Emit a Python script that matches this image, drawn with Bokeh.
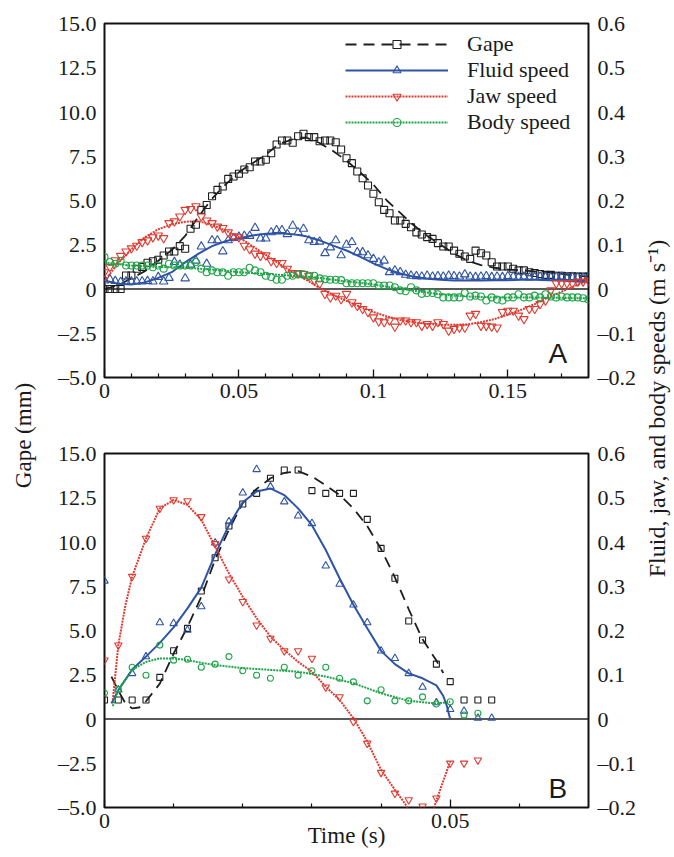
import math
from bokeh.plotting import figure
from bokeh.models import (Range1d, LinearAxis, FixedTicker, CustomJSTickFormatter,
                          NumeralTickFormatter, Span, Label, Legend, LegendItem)
from bokeh.layouts import row, column
from bokeh.embed import file_html
from bokeh.resources import INLINE
from bokeh.core.properties import value

# ---------------- data ----------------
# Panel A : samples every 2 ms, gape in mm, speeds in m/s
A_STEP = 0.002
GAPE_A = [0.0, 0.0, 0.0, 0.0, 0.76, 0.76, 1.14, 1.25, 1.48, 1.57,
          1.65, 1.89, 2.12, 2.12, 2.42, 2.27, 3.4, 3.63, 4.47, 4.75,
          5.24, 5.6, 5.79, 6.22, 6.36, 6.51, 6.75, 6.88, 7.2, 7.2,
          7.3, 7.67, 8.16, 8.39, 8.39, 8.26, 8.63, 8.77, 8.58, 8.58,
          8.35, 8.39, 8.39, 8.29, 7.88, 7.39, 7.11, 6.64, 6.26, 5.85,
          5.38, 4.9, 4.47, 4.28, 3.87, 3.87, 3.68, 3.49, 3.2, 3.08,
          2.93, 2.83, 2.59, 2.4, 2.4, 2.17, 1.99, 1.84, 1.7, 2.17,
          2.02, 1.89, 1.51, 1.27, 1.27, 1.27, 1.14, 1.05, 1.05, 0.95,
          0.9, 0.85, 0.8, 0.8, 0.75, 0.75, 0.72, 0.72, 0.7, 0.7,
          0.7]
FLUID_A = [0.019, 0.022, 0.018, 0.016, 0.017, 0.017, 0.017, 0.017, 0.018, 0.017,
           0.027, 0.017, 0.025, 0.061, 0.055, 0.024, 0.055, 0.064, 0.096, 0.057,
           0.110, 0.110, 0.085, 0.110, 0.115, 0.118, 0.120, 0.120, 0.138, 0.114,
           0.114, 0.128, 0.133, 0.133, 0.124, 0.143, 0.128, 0.136, 0.110, 0.106,
           0.107, 0.081, 0.094, 0.110, 0.076, 0.100, 0.106, 0.083, 0.083, 0.076,
           0.068, 0.060, 0.064, 0.038, 0.042, 0.038, 0.032, 0.030, 0.029, 0.028,
           0.030, 0.028, 0.029, 0.028, 0.030, 0.029, 0.028, 0.033, 0.028, 0.027,
           0.028, 0.029, 0.027, 0.028, 0.027, 0.029, 0.028, 0.027, 0.028, 0.026,
           0.027, 0.028, 0.027, 0.026, 0.027, 0.028, 0.026, 0.027, 0.026, 0.025,
           0.026]
JAW_A = [0.038, 0.050, 0.065, 0.075, 0.085, 0.092, 0.098, 0.106, 0.110, 0.117,
         0.121, 0.115, 0.149, 0.153, 0.164, 0.179, 0.181, 0.187, 0.164, 0.155,
         0.149, 0.141, 0.138, 0.128, 0.119, 0.117, 0.098, 0.090, 0.080, 0.075,
         0.076, 0.063, 0.059, 0.059, 0.046, 0.036, 0.036, 0.034, 0.030, 0.020,
         0.012, -0.011, -0.019, -0.015, -0.023, -0.011, -0.030, -0.038, -0.045, -0.052,
         -0.064, -0.073, -0.075, -0.071, -0.085, -0.071, -0.071, -0.075, -0.075, -0.083,
         -0.079, -0.083, -0.075, -0.079, -0.094, -0.090, -0.087, -0.087, -0.060, -0.056,
         -0.083, -0.083, -0.085, -0.087, -0.052, -0.049, -0.049, -0.060, -0.068, -0.045,
         -0.045, -0.034, -0.026, -0.003, 0.013, 0.013, 0.013, 0.013, 0.017, 0.017,
         0.019]
BODY_A = [0.072, 0.061, 0.057, 0.064, 0.053, 0.053, 0.053, 0.053, 0.053, 0.049,
          0.053, 0.046, 0.057, 0.053, 0.053, 0.053, 0.053, 0.061, 0.046, 0.038,
          0.042, 0.038, 0.038, 0.030, 0.038, 0.038, 0.038, 0.048, 0.042, 0.038,
          0.030, 0.027, 0.021, 0.021, 0.030, 0.030, 0.033, 0.033, 0.030, 0.030,
          0.024, 0.022, 0.021, 0.021, 0.020, 0.013, 0.013, 0.013, 0.013, 0.013,
          0.013, 0.008, 0.008, 0.008, 0.004, -0.003, -0.005, 0.004, -0.003, -0.011,
          -0.009, -0.009, -0.012, -0.019, -0.019, -0.019, -0.019, -0.009, -0.017, -0.015,
          -0.017, -0.026, -0.019, -0.024, -0.026, -0.019, -0.019, -0.012, -0.019, -0.019,
          -0.015, -0.019, -0.012, -0.017, -0.019, -0.017, -0.019, -0.019, -0.019, -0.021,
          -0.024]

# Panel A fitted curves, every 5 ms
A_FIT_STEP = 0.005
GAPE_A_FIT = [0.0, 0.2, 0.6, 1.0, 1.6, 2.2, 3.0, 4.1, 5.1, 5.9,
              6.6, 7.1, 7.6, 8.2, 8.45, 8.55, 8.25, 7.8, 7.25, 6.6,
              5.9, 5.0, 4.3, 3.6, 3.0, 2.5, 2.0, 1.6, 1.35, 1.2,
              1.1, 1.05, 1.0, 0.95, 0.85, 0.75, 0.7]
FLUID_A_FIT = [0.019, 0.012, 0.010, 0.015, 0.025, 0.038, 0.060, 0.080, 0.097, 0.108,
               0.115, 0.121, 0.125, 0.126, 0.124, 0.119, 0.110, 0.098, 0.087, 0.073,
               0.058, 0.045, 0.035, 0.028, 0.023, 0.021, 0.019, 0.019, 0.019, 0.020,
               0.020, 0.021, 0.021, 0.020, 0.019, 0.017, 0.015]
JAW_A_FIT = [0.018, 0.058, 0.090, 0.117, 0.135, 0.146, 0.152, 0.153, 0.145, 0.132,
             0.117, 0.097, 0.077, 0.057, 0.038, 0.021, 0.002, -0.013, -0.027, -0.040,
             -0.052, -0.062, -0.070, -0.075, -0.079, -0.081, -0.081, -0.080, -0.075, -0.068,
             -0.058, -0.047, -0.034, -0.019, -0.006, 0.007, 0.019]
BODY_A_FIT = [0.060, 0.056, 0.053, 0.051, 0.050, 0.049, 0.048, 0.046, 0.044, 0.041,
              0.038, 0.036, 0.034, 0.032, 0.030, 0.028, 0.025, 0.021, 0.017, 0.014,
              0.010, 0.005, 0.001, -0.004, -0.008, -0.012, -0.015, -0.017, -0.018, -0.019,
              -0.019, -0.019, -0.019, -0.020, -0.020, -0.021, -0.021]

# Panel B : samples every 2 ms
B_STEP = 0.002
GAPE_B = [1.07, 1.07, 1.07, 1.07, 2.35, 3.86, 5.12, 7.23, 9.11, 10.9,
          12.15, 12.75, 13.6, 14.07, 14.07, 12.9, 12.75, 12.75, 12.75, 11.28,
          9.64, 7.95, 5.54, 4.46, 3.1, 2.11, 1.07, 1.07, 1.07]
FLUID_B = [0.312, 0.066, 0.103, 0.141, 0.218, 0.216, 0.201, 0.254, 0.398, 0.446,
           0.511, 0.564, 0.525, 0.491, 0.459, 0.442, 0.346, 0.305, 0.258, 0.218,
           0.154, 0.137, 0.103, 0.072, 0.037, 0.022, 0.018, 0.002, 0.002]
JAW_B = [0.133, 0.167, 0.322, 0.408, 0.476, 0.495, 0.493, 0.457, 0.396, 0.316,
         0.265, 0.212, 0.182, 0.154, 0.154, 0.137, 0.072, 0.050, -0.006, -0.055,
         -0.121, -0.168, -0.183, -0.197, -0.179, -0.100, -0.100, -0.093]
BODY_B = [0.059, 0.067, 0.117, 0.099, 0.167, 0.133, 0.135, 0.117, 0.124, 0.141,
          0.109, 0.099, 0.092, 0.117, 0.099, 0.109, 0.117, 0.092, 0.084, 0.041,
          0.066, 0.041, 0.041, 0.050, 0.034, 0.039, 0.009, 0.013]

# Panel B fitted curves
GAPE_B_FIT_T = [0.001, 0.002, 0.003, 0.004, 0.005, 0.006, 0.008, 0.010, 0.012, 0.014,
                0.016, 0.018, 0.020, 0.022, 0.024, 0.026, 0.028, 0.030, 0.032, 0.034,
                0.036, 0.038, 0.040, 0.042, 0.044, 0.046, 0.048, 0.049]
GAPE_B_FIT = [2.4, 1.6, 0.9, 0.6, 0.65, 1.0, 2.0, 3.7, 5.2, 6.9,
              9.0, 10.7, 12.2, 13.0, 13.6, 13.9, 14.0, 13.7, 13.2, 12.66,
              11.9, 10.9, 9.6, 8.0, 6.2, 4.5, 3.3, 2.6]
FLUID_B_FIT_T = [0.001, 0.002, 0.004, 0.006, 0.008, 0.010, 0.012, 0.014, 0.016, 0.018,
                 0.020, 0.022, 0.024, 0.026, 0.028, 0.030, 0.032, 0.034, 0.036, 0.038,
                 0.040, 0.042, 0.044, 0.046, 0.048, 0.049, 0.0495, 0.050]
FLUID_B_FIT = [0.035, 0.065, 0.112, 0.141, 0.172, 0.207, 0.250, 0.297, 0.372, 0.438,
               0.490, 0.514, 0.521, 0.506, 0.476, 0.438, 0.382, 0.318, 0.258, 0.205,
               0.154, 0.124, 0.103, 0.092, 0.076, 0.052, 0.030, 0.0]
JAW_B_FIT_T = [0.0012, 0.002, 0.003, 0.004, 0.006, 0.008, 0.010, 0.012, 0.014, 0.016,
               0.018, 0.020, 0.022, 0.024, 0.026, 0.028, 0.030, 0.032, 0.034, 0.036,
               0.038, 0.040, 0.042, 0.0434, 0.0441, 0.046, 0.0477, 0.0487, 0.050]
JAW_B_FIT = [0.043, 0.167, 0.255, 0.322, 0.408, 0.476, 0.495, 0.484, 0.450, 0.390,
             0.329, 0.276, 0.228, 0.186, 0.156, 0.129, 0.107, 0.073, 0.043, 0.002,
             -0.051, -0.115, -0.160, -0.190, -0.206, -0.235, -0.198, -0.153, -0.096]
BODY_B_FIT_T = [0.0012, 0.002, 0.004, 0.006, 0.008, 0.010, 0.012, 0.014, 0.016, 0.020,
                0.024, 0.028, 0.032, 0.036, 0.040, 0.044, 0.048, 0.050]
BODY_B_FIT = [0.029, 0.066, 0.111, 0.129, 0.137, 0.137, 0.133, 0.127, 0.122, 0.115,
              0.111, 0.107, 0.096, 0.081, 0.058, 0.041, 0.035, 0.039]

# axes / ticks
GAPE_TICKS = [-5.0, -2.5, 0.0, 2.5, 5.0, 7.5, 10.0, 12.5, 15.0]
SPEED_TICKS = [-0.2, -0.1, 0.0, 0.1, 0.2, 0.3, 0.4, 0.5, 0.6]
A_X_MAJOR = [0.0, 0.05, 0.1, 0.15]
A_X_MINOR = [0.01, 0.02, 0.03, 0.04, 0.06, 0.07, 0.08, 0.09, 0.11, 0.12, 0.13, 0.14, 0.16, 0.17]
B_X_MAJOR = [0.0, 0.05]
B_X_MINOR = [0.01, 0.02, 0.03, 0.04, 0.06]
LABELS = ["Gape", "Fluid speed", "Jaw speed", "Body speed"]

# ---------------- styling ----------------
FONT = "Liberation Serif"
C_GAPE = "#1e1e1e"
C_FLUID = "#2f54a5"
C_JAW = "#e0392f"
C_BODY = "#1ea448"
TXT = "#1a1a1a"
PAGE_H = 857

FMT_GAPE = CustomJSTickFormatter(code="""
if (Math.abs(tick) < 1e-9) { return '0'; }
return (tick < 0 ? '\u2013' : '') + Math.abs(tick).toFixed(1);
""")
FMT_SPEED = CustomJSTickFormatter(code="""
if (Math.abs(tick) < 1e-9) { return '0'; }
return (tick < 0 ? '\u2013' : '') + Math.abs(tick).toFixed(1);
""")


def times(vals, step):
    return [round(i * step, 4) for i in range(len(vals))]


def panel(height, b_top, b_bottom, x_end, x_major, x_minor):
    p = figure(width=596, height=height, x_range=Range1d(0, x_end), y_range=Range1d(-5, 15),
               output_backend="svg", toolbar_location=None,
               min_border_left=60, min_border_right=52,
               min_border_top=b_top, min_border_bottom=b_bottom,
               background_fill_color="white", border_fill_color="white")
    p.extra_y_ranges = {"speed": Range1d(-0.2, 0.6)}
    p.grid.visible = False
    p.outline_line_color = "#111111"
    p.outline_line_width = 2

    xa = p.xaxis[0]
    xa.ticker = FixedTicker(ticks=x_major, minor_ticks=x_minor)
    xa.formatter = NumeralTickFormatter(format="0.[00]")
    xa.axis_line_color = None
    xa.major_tick_in = 8
    xa.major_tick_out = 0
    xa.minor_tick_in = 4
    xa.minor_tick_out = 0
    xa.major_tick_line_color = "#111111"
    xa.minor_tick_line_color = "#111111"
    xa.major_tick_line_width = 1.3
    xa.minor_tick_line_width = 1.2
    xa.major_label_text_font = FONT
    xa.major_label_text_font_size = "22px"
    xa.major_label_text_color = TXT
    xa.major_label_standoff = 6

    ya = p.yaxis[0]
    ya.ticker = FixedTicker(ticks=GAPE_TICKS)
    ya.formatter = FMT_GAPE
    ya.axis_line_color = None
    ya.major_tick_line_color = None
    ya.minor_tick_line_color = None
    ya.major_tick_in = 0
    ya.major_tick_out = 0
    ya.minor_tick_in = 0
    ya.minor_tick_out = 0
    ya.major_label_text_font = FONT
    ya.major_label_text_font_size = "22px"
    ya.major_label_text_color = TXT
    ya.major_label_standoff = 8

    ra = LinearAxis(y_range_name="speed", ticker=FixedTicker(ticks=SPEED_TICKS), formatter=FMT_SPEED)
    ra.axis_line_color = None
    ra.major_tick_line_color = None
    ra.minor_tick_line_color = None
    ra.major_tick_in = 0
    ra.major_tick_out = 0
    ra.minor_tick_in = 0
    ra.minor_tick_out = 0
    ra.major_label_text_font = FONT
    ra.major_label_text_font_size = "22px"
    ra.major_label_text_color = TXT
    ra.major_label_standoff = 9
    p.add_layout(ra, "right")

    p.add_layout(Span(location=0, dimension="width", line_color="#222222", line_width=1.6, level="underlay"))
    return p


def draw(p, data, fits, msize):
    (tg, g), (tf, f), (tj, j), (tb, b) = data
    (ftg, fg), (ftf, ff), (ftj, fj), (ftb, fb) = fits
    out = []
    lg = p.line(ftg, fg, line_color=C_GAPE, line_width=1.8, line_dash="11 7")
    sg = p.scatter(tg, g, marker="square", size=msize, fill_color=None, line_color=C_GAPE, line_width=1.1)
    out.append([lg, sg])
    lf = p.line(ftf, ff, line_color=C_FLUID, line_width=2, y_range_name="speed")
    sf = p.scatter(tf, f, marker="triangle", size=msize + 1.5, fill_color=None, line_color=C_FLUID,
                   line_width=1.1, y_range_name="speed")
    out.append([lf, sf])
    lj = p.line(ftj, fj, line_color=C_JAW, line_width=2, line_dash="2 1", y_range_name="speed")
    sj = p.scatter(tj, j, marker="inverted_triangle", size=msize + 1.5, fill_color=None, line_color=C_JAW,
                   line_width=1.1, y_range_name="speed")
    out.append([lj, sj])
    lb = p.line(ftb, fb, line_color=C_BODY, line_width=2, line_dash="2 1", y_range_name="speed")
    sb = p.scatter(tb, b, marker="circle", size=msize, fill_color=None, line_color=C_BODY,
                   line_width=1.1, y_range_name="speed")
    out.append([lb, sb])
    return out


# ---------------- panel A ----------------
pa = panel(417, 23, 40, 0.18, A_X_MAJOR, A_X_MINOR)
ra_list = draw(pa,
               [(times(GAPE_A, A_STEP), GAPE_A), (times(FLUID_A, A_STEP), FLUID_A),
                (times(JAW_A, A_STEP), JAW_A), (times(BODY_A, A_STEP), BODY_A)],
               [(times(GAPE_A_FIT, A_FIT_STEP), GAPE_A_FIT), (times(FLUID_A_FIT, A_FIT_STEP), FLUID_A_FIT),
                (times(JAW_A_FIT, A_FIT_STEP), JAW_A_FIT), (times(BODY_A_FIT, A_FIT_STEP), BODY_A_FIT)],
               7)
legend = Legend(items=[LegendItem(label=lab, renderers=r) for lab, r in zip(LABELS, ra_list)],
                location=(241, 242), orientation="vertical",
                glyph_width=103, glyph_height=20, label_standoff=19, spacing=0,
                padding=0, margin=0, border_line_color=None, background_fill_alpha=0,
                label_text_font=FONT, label_text_font_size="22px", label_text_color=TXT)
pa.add_layout(legend, "center")
pa.add_layout(Label(x=444, y=24, x_units="screen", y_units="screen", text="A",
                    text_font="Liberation Sans", text_font_size="28px", text_color=TXT,
                    text_baseline="alphabetic"))

# ---------------- panel B ----------------
pb = panel(440, 36, 50, 0.07, B_X_MAJOR, B_X_MINOR)
draw(pb,
     [(times(GAPE_B, B_STEP), GAPE_B), (times(FLUID_B, B_STEP), FLUID_B),
      (times(JAW_B, B_STEP), JAW_B), (times(BODY_B, B_STEP), BODY_B)],
     [(GAPE_B_FIT_T, GAPE_B_FIT), (FLUID_B_FIT_T, FLUID_B_FIT),
      (JAW_B_FIT_T, JAW_B_FIT), (BODY_B_FIT_T, BODY_B_FIT)],
     6)
pb.add_layout(Label(x=444, y=19, x_units="screen", y_units="screen", text="B",
                    text_font="Liberation Sans", text_font_size="28px", text_color=TXT,
                    text_baseline="alphabetic"))
xb = pb.xaxis[0]
xb.axis_label = "Time (s)"
xb.axis_label_text_font = FONT
xb.axis_label_text_font_size = "23px"
xb.axis_label_text_font_style = "normal"
xb.axis_label_text_color = TXT
xb.axis_label_standoff = -8


# ---------------- side titles ----------------
def title_fig(w, txt, xc, yc, size):
    f = figure(width=w, height=PAGE_H, x_range=Range1d(0, w), y_range=Range1d(0, PAGE_H),
               output_backend="svg", toolbar_location=None, min_border=0,
               x_axis_type=None, y_axis_type=None,
               background_fill_color="white", border_fill_color="white")
    f.grid.visible = False
    f.outline_line_color = None
    f.text(x=[xc], y=[yc], text=[txt], angle=math.pi / 2, text_align="center",
           text_baseline="middle", text_font=value(FONT), text_font_size=size, text_color=TXT)
    return f


left = title_fig(44, "Gape (mm)", 23, PAGE_H - 435, "23px")
right = title_fig(32, "Fluid, jaw, and body speeds (m s\u207b\u00b9)", 16, PAGE_H - 408, "24px")

layout = row(left, column(pa, pb), right)

open("out.html", "w").write(file_html(layout, INLINE))
